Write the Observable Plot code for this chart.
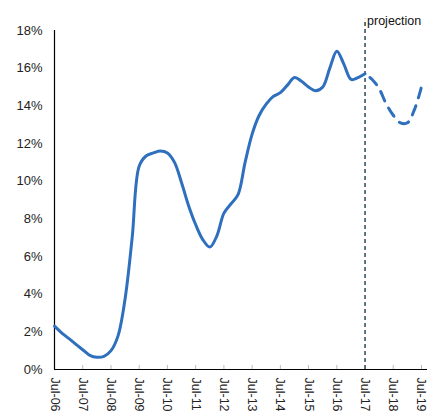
<!DOCTYPE html>
<html>
<head>
<meta charset="utf-8">
<script src="https://cdn.jsdelivr.net/npm/d3@7"></script>
<script src="https://cdn.jsdelivr.net/npm/@observablehq/plot@0.6"></script>
<style>
  html, body { margin: 0; padding: 0; background: #fff; }
  #chart svg { display: block; }
</style>
</head>
<body>
<div id="chart"></div>
<script>
// Observed series (quarterly readings), %
const actualDates = ["2006-07","2006-10","2007-01","2007-04","2007-07","2007-10","2008-01","2008-04","2008-07","2008-10","2009-01","2009-04","2009-07","2009-10","2010-01","2010-04","2010-07","2010-10","2011-01","2011-04","2011-07","2011-10","2012-01","2012-04","2012-07","2012-10","2013-01","2013-04","2013-07","2013-10","2014-01","2014-04","2014-07","2014-10","2015-01","2015-04","2015-07","2015-10","2016-01","2016-04","2016-07","2016-10","2017-01","2017-04","2017-07"];
const actualValues = [2.3,1.95,1.65,1.35,1.05,0.75,0.65,0.7,1.0,1.8,3.8,7.0,10.8,11.35,11.5,11.6,11.5,11.0,9.9,8.7,7.7,6.9,6.5,7.1,8.3,8.8,9.3,11.0,12.5,13.5,14.1,14.5,14.7,15.1,15.5,15.3,15.0,14.8,15.0,16.0,16.9,16.2,15.4,15.5,15.7];
// Projection series, %
const projDates = ["2017-07","2017-10","2018-01","2018-04","2018-07","2018-10","2019-01","2019-04","2019-07"];
const projValues = [15.7,15.4,14.9,14.1,13.5,13.1,13.1,13.8,15.0];
// Axis ticks
const yTicks = [0,2,4,6,8,10,12,14,16,18];
const xTickLabels = ["Jul-06","Jul-07","Jul-08","Jul-09","Jul-10","Jul-11","Jul-12","Jul-13","Jul-14","Jul-15","Jul-16","Jul-17","Jul-18","Jul-19"];
const projectionStart = "2017-07";
const projectionLabel = "projection";

const parse = d3.utcParse("%Y-%m");
const parseTick = d3.utcParse("%b-%y");
const actual = actualDates.map((d, i) => ({date: parse(d), value: actualValues[i]}));
const proj = projDates.map((d, i) => ({date: parse(d), value: projValues[i]}));
const xTicks = xTickLabels.map(parseTick);
const projDate = parse(projectionStart);

const blue = "#2e6fbe";
const chart = Plot.plot({
  width: 427,
  height: 414,
  marginLeft: 54,
  marginRight: 0,
  marginTop: 30,
  marginBottom: 45,
  style: {fontFamily: "'Liberation Sans', Arial, Helvetica, sans-serif", color: "#222", background: "#fff"},
  x: {type: "utc", domain: [parse("2006-07"), d3.utcDay.offset(parse("2019-07"), 78)]},
  y: {domain: [0, 18]},
  marks: [
    Plot.axisY({ticks: yTicks, tickSize: 0, tickPadding: 12, tickFormat: d => d + "%", fontSize: 13, label: null}),
    Plot.axisX({ticks: xTicks, tickSize: 4, dy: -4, fill: "none", stroke: "#bbb", label: null}),
    Plot.axisX({ticks: xTicks, tickSize: 0, tickPadding: 8, tickRotate: 90, tickFormat: d3.utcFormat("%b-%y"), fontSize: 12.5, label: null}),
    Plot.ruleX([projDate], {y1: 0, y2: 18.6, stroke: "#2b4a5a", strokeWidth: 1.5, strokeDasharray: "4,3", clip: false}),
    Plot.text([projectionLabel], {x: projDate, y: 18.6, text: d => d, textAnchor: "start", lineAnchor: "middle", dx: 2, dy: 2, fontSize: 12.5, fill: "#111", clip: false}),
    Plot.ruleX([xTicks[0]], {y1: 0, y2: 18, stroke: "#000", strokeWidth: 1.2}),
    Plot.ruleY([0], {stroke: "#000", strokeWidth: 1.2}),
    Plot.line(actual, {x: "date", y: "value", stroke: blue, strokeWidth: 3, curve: "catmull-rom"}),
    Plot.line(proj, {x: "date", y: "value", stroke: blue, strokeWidth: 3, curve: "catmull-rom", strokeDasharray: "10,8", strokeDashoffset: -6})
  ]
});
document.getElementById("chart").appendChild(chart);
</script>
</body>
</html>
